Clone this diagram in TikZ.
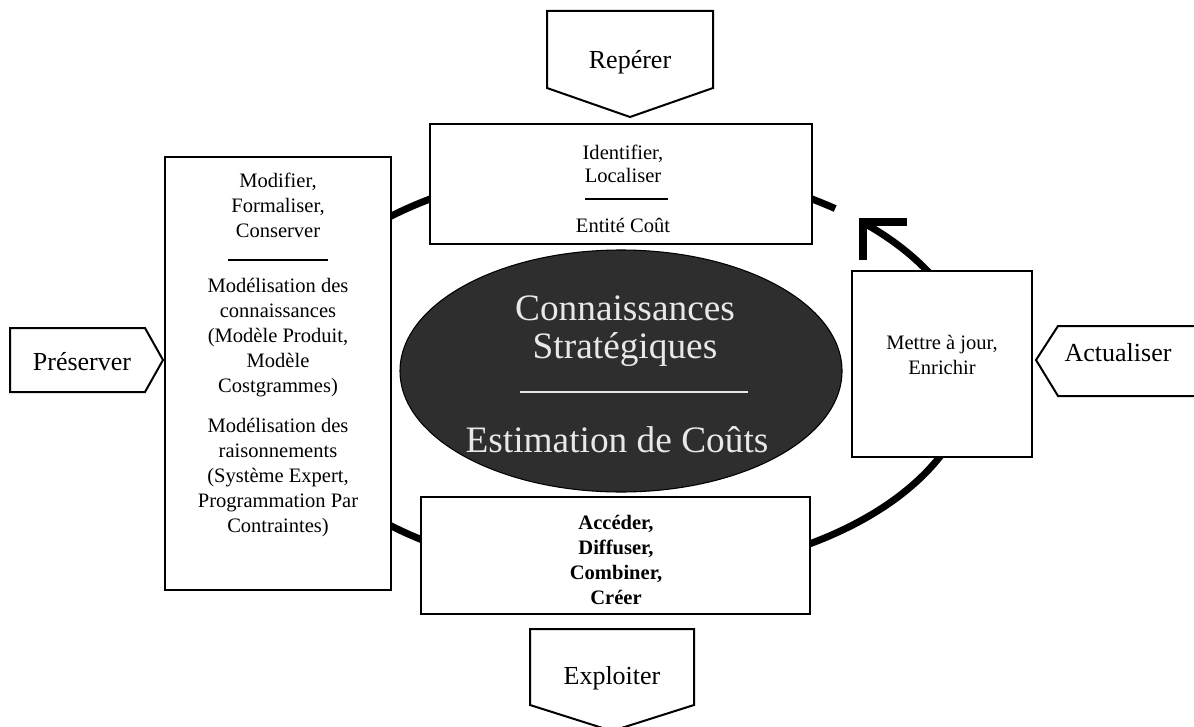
\documentclass[tikz,border=0pt]{standalone}
\usepackage{fontspec}
\setmainfont{Liberation Serif}
\usetikzlibrary{shapes.geometric}
\definecolor{ellfill}{HTML}{2E2E2E}
\definecolor{elltext}{HTML}{E8E8E8}
\tikzset{
  box/.style={draw, line width=1.5pt, fill=white, inner sep=0pt},
  pent/.style={draw, line width=1.5pt, line join=miter, fill=white},
  txt/.style={align=center, inner sep=0pt, font=\fontsize{15.4}{18.75}\selectfont},
  txttop/.style={align=center, inner sep=0pt, font=\fontsize{15.4}{17.25}\selectfont},
  txtbold/.style={align=center, inner sep=0pt, font=\fontsize{15.4}{18.75}\selectfont\bfseries},
  lbl/.style={inner sep=0pt, font=\fontsize{19.5}{22}\selectfont},
  elltxt/.style={align=center, inner sep=0pt, text=elltext, font=\fontsize{28}{28.5}\selectfont},
  sep/.style={line width=1.8pt},
  cyc/.style={line width=5.25pt},
  arrowarm/.style={line width=6pt, line join=miter, line cap=butt}
}
\begin{document}
\begin{tikzpicture}[x=0.75pt,y=-0.75pt]
\useasboundingbox (0,0) rectangle (1194,727);
% cycle arc (behind the boxes)
\draw[cyc] plot[domain=-46.5:307.6, samples=240, smooth] ({621+351*cos(\x)},{371+205*sin(\x)});
\coordinate (apex) at (862.5,222.4);
\coordinate (armh) at (907,222.4);
\coordinate (armv) at (862.5,260);
\draw[arrowarm] (armh) -- (apex) -- (armv);

% central ellipse
\node[ellipse, fill=ellfill, draw=black, line width=0.8pt, minimum width=331.5pt, minimum height=181.5pt, inner sep=0pt] (core) at (621,371) {};
\node[elltxt] (core1) at (625,331) {Connaissances\\Stratégiques};
\draw[line width=1.5pt, draw=elltext] (520,392) -- (748,392);
\node[elltxt] (core2) at (617,440) {Estimation de Coûts};

% top box
\node[box, minimum width=286.5pt, minimum height=90pt] (topbox) at (621,184) {};
\node[txttop] (top1) at (623,164) {Identifier,\\Localiser};
\draw[sep] (585,199) -- (668,199);
\node[txttop] (top2) at (623,225) {Entité Coût};

% left box
\node[box, minimum width=169.5pt, minimum height=324.75pt] (leftbox) at (278,373.5) {};
\node[txt] (left1) at (278,205) {Modifier,\\Formaliser,\\Conserver};
\draw[sep] (228,260) -- (328,260);
\node[txt] (left2) at (278,338) {Modélisation des\\connaissances\\(Modèle Produit,\\Modèle\\Costgrammes)};
\node[txt] (left3) at (278,478) {Modélisation des\\raisonnements\\(Système Expert,\\Programmation Par\\Contraintes)};

% right box
\node[box, minimum width=135pt, minimum height=139.5pt] (rightbox) at (942,364) {};
\node[txt] (right1) at (942,355) {Mettre à jour,\\Enrichir};

% bottom box
\node[box, minimum width=291.75pt, minimum height=87.75pt] (botbox) at (615.5,555.5) {};
\node[txtbold] (bot1) at (616,559.5) {Accéder,\\Diffuser,\\Combiner,\\Créer};

% pentagon labels
\draw[pent] (547,11) -- (713,11) -- (713,88) -- (630,117) -- (547,88) -- cycle;
\node[lbl] (reperer) at (630,62) {Repérer};
\draw[pent] (10,328) -- (145,328) -- (163,360) -- (145,392) -- (10,392) -- cycle;
\node[lbl] (preserver) at (82,362) {Préserver};
\draw[pent] (1204,326) -- (1058,326) -- (1036,360) -- (1058,396) -- (1204,396);
\node[lbl] (actualiser) at (1118,353) {Actualiser};
\draw[pent] (530,629) -- (694,629) -- (694,705) -- (612,731) -- (530,705) -- cycle;
\node[lbl] (exploiter) at (612,678) {Exploiter};
\end{tikzpicture}
\end{document}
